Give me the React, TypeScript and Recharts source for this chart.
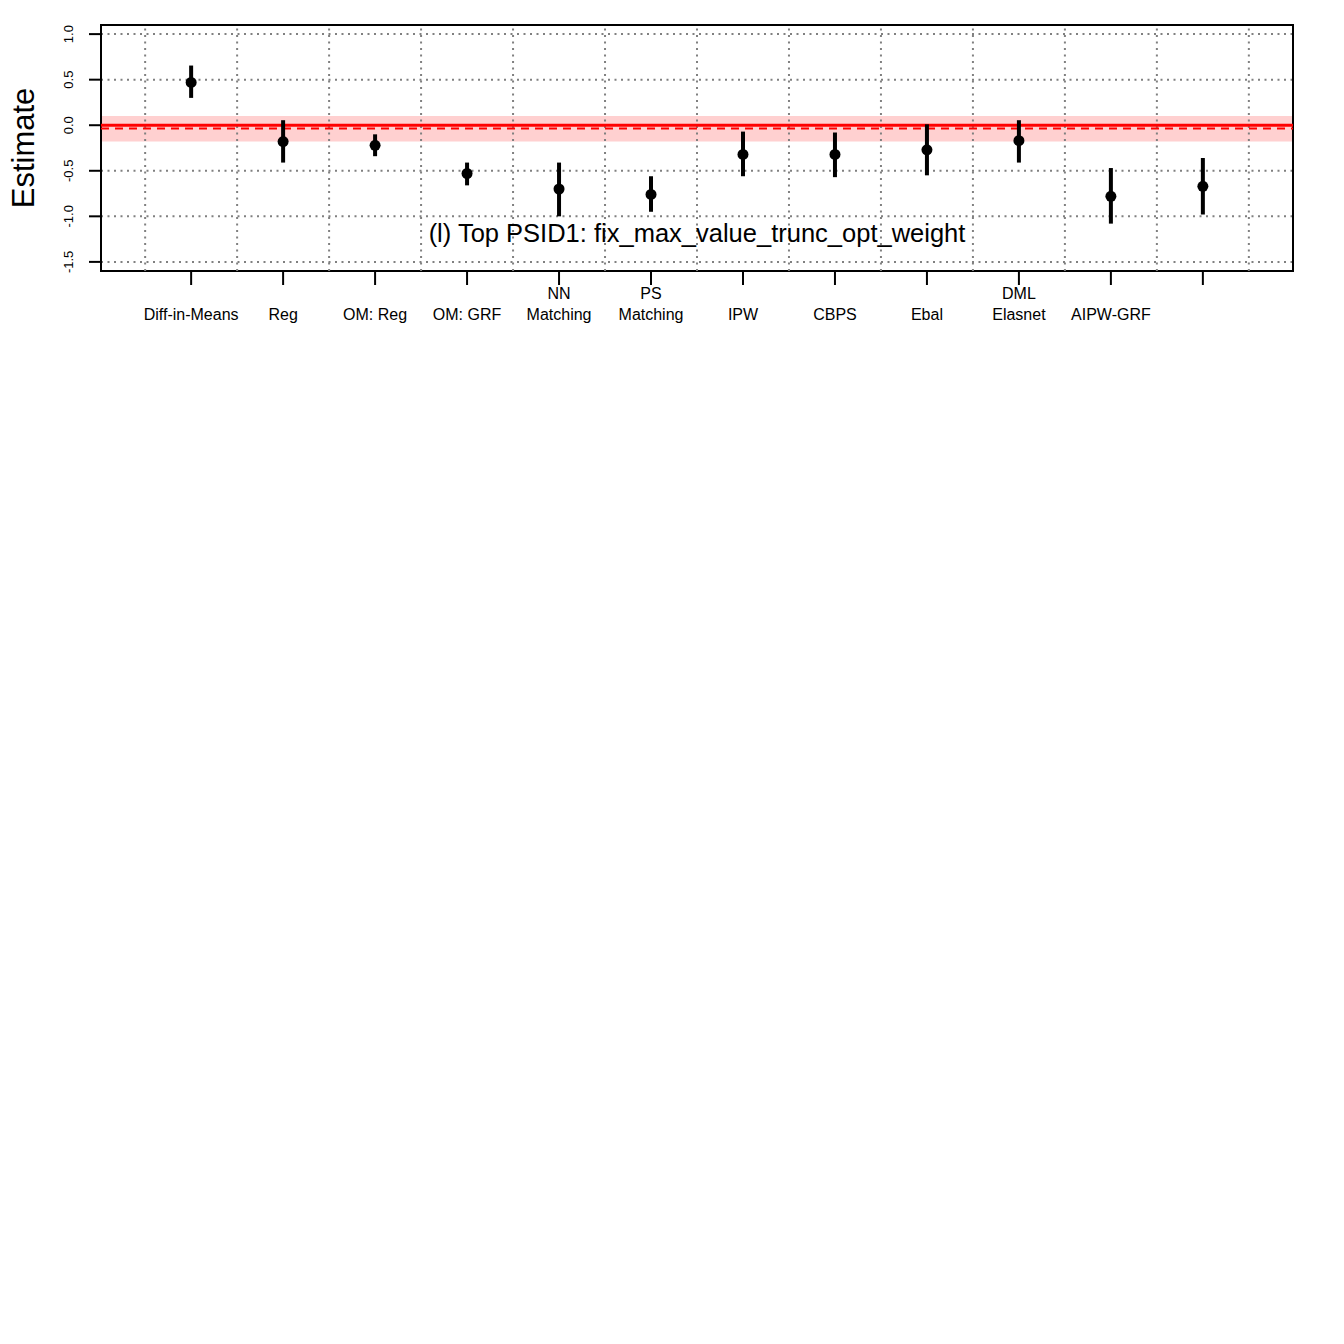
import React from "react";
import {
  ComposedChart,
  Scatter,
  ErrorBar,
  XAxis,
  YAxis,
  CartesianGrid,
  ReferenceLine,
  ReferenceArea,
  ReferenceDot,
} from "recharts";

// methods along the x axis ("\n" splits a label onto two lines)
const methods = [
  "Diff-in-Means",
  "Reg",
  "OM: Reg",
  "OM: GRF",
  "NN\nMatching",
  "PS\nMatching",
  "IPW",
  "CBPS",
  "Ebal",
  "DML\nElasnet",
  "AIPW-GRF",
  "",
];
const estimates = [0.47, -0.18, -0.22, -0.53, -0.7, -0.76, -0.32, -0.32, -0.27, -0.17, -0.78, -0.67];
const ciLower = [0.3, -0.41, -0.34, -0.66, -1.0, -0.95, -0.56, -0.57, -0.55, -0.41, -1.08, -0.98];
const ciUpper = [0.655, 0.055, -0.1, -0.41, -0.41, -0.56, -0.07, -0.08, 0.01, 0.055, -0.47, -0.36];

// experimental benchmark
const benchLow = -0.18;
const benchHigh = 0.1;
const benchEstimate = 0;
const benchDashed = -0.036;

const yTicks = [-1.5, -1.0, -0.5, 0.0, 0.5, 1.0];
const xDomain = [0.02, 12.98];
const yDomain = [-1.6, 1.1];
const gridX = [0.5, 1.5, 2.5, 3.5, 4.5, 5.5, 6.5, 7.5, 8.5, 9.5, 10.5, 11.5, 12.5];

const yTitle = "Estimate";
const panelTitle = "(l) Top PSID1: fix_max_value_trunc_opt_weight";
const titlePos = { x: 6.5, y: -1.185 };

const FONT = "'Liberation Sans', Arial, sans-serif";

const data = methods.map((m, i) => ({
  pos: i + 1,
  est: estimates[i],
  err: [estimates[i] - ciLower[i], ciUpper[i] - estimates[i]],
}));

const XTick = (props: any) => {
  const { x, y, payload } = props;
  const label = methods[payload.value - 1] ?? "";
  const lines = label.split("\n");
  return (
    <g>
      {lines.map((ln, k) => (
        <text
          key={k}
          x={x}
          y={y + 33 - (lines.length - 1 - k) * 21}
          textAnchor="middle"
          fontSize={16}
          fontFamily={FONT}
          fill="#000"
        >
          {ln}
        </text>
      ))}
    </g>
  );
};

const YTick = (props: any) => {
  const { x, y, payload } = props;
  const tx = x - 14;
  return (
    <text
      x={tx}
      y={y}
      transform={`rotate(-90, ${tx}, ${y})`}
      textAnchor="middle"
      fontSize={13}
      fontFamily={FONT}
      fill="#000"
    >
      {payload.value.toFixed(1)}
    </text>
  );
};

const YTitle = (props: any) => {
  const vb = props.viewBox || {};
  const cy = (vb.y ?? 25) + (vb.height ?? 246) / 2;
  const tx = (vb.x ?? 8) + 26;
  return (
    <text
      x={tx}
      y={cy}
      transform={`rotate(-90, ${tx}, ${cy})`}
      textAnchor="middle"
      fontSize={31}
      fontFamily={FONT}
      fill="#000"
    >
      {yTitle}
    </text>
  );
};

export default function App() {
  return (
    <div style={{ position: "absolute", left: 0, top: 0, width: 1344, height: 350 }}>
      <ComposedChart
        width={1344}
        height={350}
        data={data}
        margin={{ top: 25, right: 51, left: 8, bottom: 0 }}
      >
        <CartesianGrid
          vertical={false}
          stroke="#808080"
          strokeWidth={2}
          strokeDasharray="2 4.5"
        />
        {gridX.map((gx) => (
          <ReferenceLine
            key={gx}
            x={gx}
            stroke="#808080"
            strokeWidth={2}
            strokeDasharray="2 4.5"
          />
        ))}
        <ReferenceArea y1={benchLow} y2={benchHigh} fill="#FFD0D0" fillOpacity={1} stroke="none" />
        <ReferenceLine y={benchEstimate} stroke="#FF0000" strokeWidth={3} />
        <ReferenceLine y={benchDashed} stroke="#FF0000" strokeWidth={2} strokeDasharray="8 6" />
        <XAxis
          type="number"
          dataKey="pos"
          domain={xDomain}
          ticks={methods.map((_, i) => i + 1)}
          interval={0}
          allowDataOverflow
          axisLine={false}
          tickLine={{ stroke: "#000", strokeWidth: 2 }}
          tickSize={14}
          height={79}
          tick={<XTick />}
        />
        <YAxis
          type="number"
          dataKey="est"
          domain={yDomain}
          ticks={yTicks}
          interval={0}
          allowDataOverflow
          axisLine={false}
          tickLine={{ stroke: "#000", strokeWidth: 2 }}
          tickSize={12}
          width={93}
          tick={<YTick />}
          label={<YTitle />}
        />
        <Scatter
          dataKey="est"
          isAnimationActive={false}
          shape={(p: any) => <circle cx={p.cx} cy={p.cy} r={5.5} fill="#000" />}
        >
          <ErrorBar
            dataKey="err"
            direction="y"
            width={0}
            stroke="#000"
            strokeWidth={4}
            isAnimationActive={false}
          />
        </Scatter>
        <ReferenceDot
          x={titlePos.x}
          y={titlePos.y}
          r={0}
          shape={(p: any) => (
            <text
              x={p.cx}
              y={p.cy}
              dy={9}
              textAnchor="middle"
              fontSize={25.5}
              fontFamily={FONT}
              fill="#000"
            >
              {panelTitle}
            </text>
          )}
        />
        <ReferenceArea
          x1={xDomain[0]}
          x2={xDomain[1]}
          y1={yDomain[0]}
          y2={yDomain[1]}
          fill="none"
          stroke="#000"
          strokeWidth={2}
        />
      </ComposedChart>
    </div>
  );
}
